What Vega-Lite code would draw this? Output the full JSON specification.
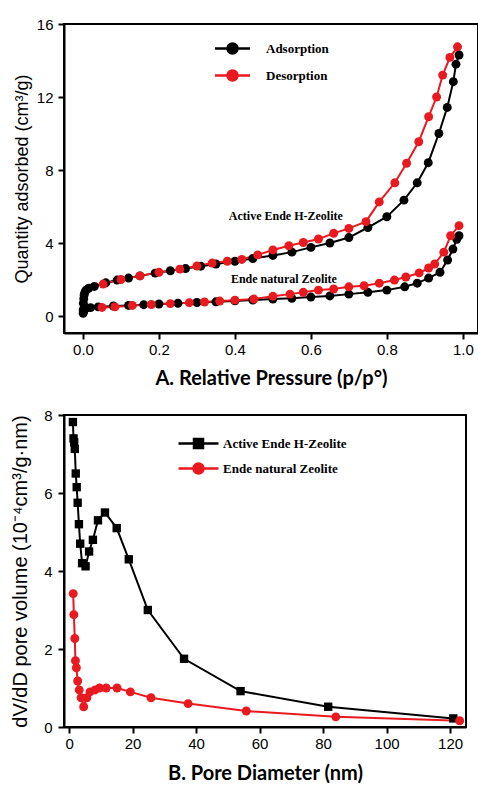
{
  "$schema": "https://vega.github.io/schema/vega-lite/v6.json",
  "background": "white",
  "padding": {"left": 9, "top": 16, "right": 0, "bottom": 0},
  "bounds": "flush",
  "spacing": 82,
  "config": {
    "view": {"stroke": "black", "strokeWidth": 2},
    "axis": {
      "grid": false,
      "domainColor": "black", "domainWidth": 2,
      "tickColor": "black", "tickWidth": 2, "tickSize": 6,
      "labelFont": "Liberation Sans", "labelFontSize": 15, "labelColor": "black",
      "titleColor": "black"
    }
  },
  "resolve": {
    "scale": {"color": "independent"},
    "legend": {"color": "independent"}
  },
  "vconcat": [
    {
      "width": 414,
      "height": 309,
      "data": {"values": [
        {"sample": "Active", "branch": "Adsorption", "p": 0.0005, "q": 0.35},
        {"sample": "Active", "branch": "Adsorption", "p": 0.001, "q": 0.7},
        {"sample": "Active", "branch": "Adsorption", "p": 0.002, "q": 0.95},
        {"sample": "Active", "branch": "Adsorption", "p": 0.003, "q": 1.15},
        {"sample": "Active", "branch": "Adsorption", "p": 0.005, "q": 1.3},
        {"sample": "Active", "branch": "Adsorption", "p": 0.008, "q": 1.42},
        {"sample": "Active", "branch": "Adsorption", "p": 0.015, "q": 1.52},
        {"sample": "Active", "branch": "Adsorption", "p": 0.03, "q": 1.62},
        {"sample": "Active", "branch": "Adsorption", "p": 0.06, "q": 1.82},
        {"sample": "Active", "branch": "Adsorption", "p": 0.09, "q": 1.97},
        {"sample": "Active", "branch": "Adsorption", "p": 0.12, "q": 2.08},
        {"sample": "Active", "branch": "Adsorption", "p": 0.15, "q": 2.2},
        {"sample": "Active", "branch": "Adsorption", "p": 0.19, "q": 2.35},
        {"sample": "Active", "branch": "Adsorption", "p": 0.23, "q": 2.48},
        {"sample": "Active", "branch": "Adsorption", "p": 0.27, "q": 2.6},
        {"sample": "Active", "branch": "Adsorption", "p": 0.31, "q": 2.73},
        {"sample": "Active", "branch": "Adsorption", "p": 0.35, "q": 2.85},
        {"sample": "Active", "branch": "Adsorption", "p": 0.4, "q": 3.0},
        {"sample": "Active", "branch": "Adsorption", "p": 0.447, "q": 3.15},
        {"sample": "Active", "branch": "Adsorption", "p": 0.5, "q": 3.32},
        {"sample": "Active", "branch": "Adsorption", "p": 0.55, "q": 3.5},
        {"sample": "Active", "branch": "Adsorption", "p": 0.6, "q": 3.76},
        {"sample": "Active", "branch": "Adsorption", "p": 0.65, "q": 4.0},
        {"sample": "Active", "branch": "Adsorption", "p": 0.7, "q": 4.3},
        {"sample": "Active", "branch": "Adsorption", "p": 0.75, "q": 4.85},
        {"sample": "Active", "branch": "Adsorption", "p": 0.8, "q": 5.44},
        {"sample": "Active", "branch": "Adsorption", "p": 0.845, "q": 6.35},
        {"sample": "Active", "branch": "Adsorption", "p": 0.88, "q": 7.3},
        {"sample": "Active", "branch": "Adsorption", "p": 0.909, "q": 8.4},
        {"sample": "Active", "branch": "Adsorption", "p": 0.937, "q": 10.0},
        {"sample": "Active", "branch": "Adsorption", "p": 0.959, "q": 11.43},
        {"sample": "Active", "branch": "Adsorption", "p": 0.975, "q": 12.84},
        {"sample": "Active", "branch": "Adsorption", "p": 0.982, "q": 13.8},
        {"sample": "Active", "branch": "Adsorption", "p": 0.99, "q": 14.3},
        {"sample": "Natural", "branch": "Adsorption", "p": 0.0005, "q": 0.15},
        {"sample": "Natural", "branch": "Adsorption", "p": 0.001, "q": 0.25},
        {"sample": "Natural", "branch": "Adsorption", "p": 0.002, "q": 0.32},
        {"sample": "Natural", "branch": "Adsorption", "p": 0.004, "q": 0.38},
        {"sample": "Natural", "branch": "Adsorption", "p": 0.008, "q": 0.42},
        {"sample": "Natural", "branch": "Adsorption", "p": 0.02, "q": 0.46},
        {"sample": "Natural", "branch": "Adsorption", "p": 0.04, "q": 0.5},
        {"sample": "Natural", "branch": "Adsorption", "p": 0.08, "q": 0.55},
        {"sample": "Natural", "branch": "Adsorption", "p": 0.12, "q": 0.58},
        {"sample": "Natural", "branch": "Adsorption", "p": 0.16, "q": 0.62},
        {"sample": "Natural", "branch": "Adsorption", "p": 0.2, "q": 0.66},
        {"sample": "Natural", "branch": "Adsorption", "p": 0.25, "q": 0.7},
        {"sample": "Natural", "branch": "Adsorption", "p": 0.3, "q": 0.74},
        {"sample": "Natural", "branch": "Adsorption", "p": 0.35, "q": 0.78},
        {"sample": "Natural", "branch": "Adsorption", "p": 0.4, "q": 0.83},
        {"sample": "Natural", "branch": "Adsorption", "p": 0.447, "q": 0.88},
        {"sample": "Natural", "branch": "Adsorption", "p": 0.5, "q": 0.93},
        {"sample": "Natural", "branch": "Adsorption", "p": 0.55, "q": 0.97},
        {"sample": "Natural", "branch": "Adsorption", "p": 0.6, "q": 1.04},
        {"sample": "Natural", "branch": "Adsorption", "p": 0.65, "q": 1.1},
        {"sample": "Natural", "branch": "Adsorption", "p": 0.7, "q": 1.2},
        {"sample": "Natural", "branch": "Adsorption", "p": 0.75, "q": 1.3},
        {"sample": "Natural", "branch": "Adsorption", "p": 0.8, "q": 1.42},
        {"sample": "Natural", "branch": "Adsorption", "p": 0.847, "q": 1.6},
        {"sample": "Natural", "branch": "Adsorption", "p": 0.88, "q": 1.8},
        {"sample": "Natural", "branch": "Adsorption", "p": 0.91, "q": 2.08},
        {"sample": "Natural", "branch": "Adsorption", "p": 0.94, "q": 2.4},
        {"sample": "Natural", "branch": "Adsorption", "p": 0.96, "q": 3.07},
        {"sample": "Natural", "branch": "Adsorption", "p": 0.974, "q": 3.67},
        {"sample": "Natural", "branch": "Adsorption", "p": 0.984, "q": 4.2},
        {"sample": "Natural", "branch": "Adsorption", "p": 0.99, "q": 4.4},
        {"sample": "Active", "branch": "Desorption", "p": 0.053, "q": 1.75},
        {"sample": "Active", "branch": "Desorption", "p": 0.1, "q": 2.0},
        {"sample": "Active", "branch": "Desorption", "p": 0.15, "q": 2.2},
        {"sample": "Active", "branch": "Desorption", "p": 0.2, "q": 2.4},
        {"sample": "Active", "branch": "Desorption", "p": 0.255, "q": 2.57},
        {"sample": "Active", "branch": "Desorption", "p": 0.3, "q": 2.74},
        {"sample": "Active", "branch": "Desorption", "p": 0.34, "q": 2.9},
        {"sample": "Active", "branch": "Desorption", "p": 0.38, "q": 3.0},
        {"sample": "Active", "branch": "Desorption", "p": 0.418, "q": 3.1},
        {"sample": "Active", "branch": "Desorption", "p": 0.46, "q": 3.35},
        {"sample": "Active", "branch": "Desorption", "p": 0.5, "q": 3.62},
        {"sample": "Active", "branch": "Desorption", "p": 0.542, "q": 3.85},
        {"sample": "Active", "branch": "Desorption", "p": 0.58, "q": 4.03},
        {"sample": "Active", "branch": "Desorption", "p": 0.62, "q": 4.22},
        {"sample": "Active", "branch": "Desorption", "p": 0.66, "q": 4.53},
        {"sample": "Active", "branch": "Desorption", "p": 0.7, "q": 4.8},
        {"sample": "Active", "branch": "Desorption", "p": 0.745, "q": 5.17},
        {"sample": "Active", "branch": "Desorption", "p": 0.78, "q": 6.25},
        {"sample": "Active", "branch": "Desorption", "p": 0.821, "q": 7.3},
        {"sample": "Active", "branch": "Desorption", "p": 0.852, "q": 8.37},
        {"sample": "Active", "branch": "Desorption", "p": 0.884, "q": 9.55},
        {"sample": "Active", "branch": "Desorption", "p": 0.91, "q": 10.92},
        {"sample": "Active", "branch": "Desorption", "p": 0.931, "q": 12.0},
        {"sample": "Active", "branch": "Desorption", "p": 0.947, "q": 13.2},
        {"sample": "Active", "branch": "Desorption", "p": 0.966, "q": 14.17},
        {"sample": "Active", "branch": "Desorption", "p": 0.986, "q": 14.75},
        {"sample": "Natural", "branch": "Desorption", "p": 0.05, "q": 0.47},
        {"sample": "Natural", "branch": "Desorption", "p": 0.084, "q": 0.5},
        {"sample": "Natural", "branch": "Desorption", "p": 0.13, "q": 0.58},
        {"sample": "Natural", "branch": "Desorption", "p": 0.18, "q": 0.63},
        {"sample": "Natural", "branch": "Desorption", "p": 0.23, "q": 0.68},
        {"sample": "Natural", "branch": "Desorption", "p": 0.28, "q": 0.73},
        {"sample": "Natural", "branch": "Desorption", "p": 0.32, "q": 0.77},
        {"sample": "Natural", "branch": "Desorption", "p": 0.36, "q": 0.82},
        {"sample": "Natural", "branch": "Desorption", "p": 0.4, "q": 0.87},
        {"sample": "Natural", "branch": "Desorption", "p": 0.45, "q": 0.93},
        {"sample": "Natural", "branch": "Desorption", "p": 0.5, "q": 1.08},
        {"sample": "Natural", "branch": "Desorption", "p": 0.545, "q": 1.2},
        {"sample": "Natural", "branch": "Desorption", "p": 0.58, "q": 1.3},
        {"sample": "Natural", "branch": "Desorption", "p": 0.62, "q": 1.42},
        {"sample": "Natural", "branch": "Desorption", "p": 0.66, "q": 1.48},
        {"sample": "Natural", "branch": "Desorption", "p": 0.7, "q": 1.6},
        {"sample": "Natural", "branch": "Desorption", "p": 0.74, "q": 1.66},
        {"sample": "Natural", "branch": "Desorption", "p": 0.78, "q": 1.8},
        {"sample": "Natural", "branch": "Desorption", "p": 0.82, "q": 1.97},
        {"sample": "Natural", "branch": "Desorption", "p": 0.85, "q": 2.14},
        {"sample": "Natural", "branch": "Desorption", "p": 0.885, "q": 2.36},
        {"sample": "Natural", "branch": "Desorption", "p": 0.91, "q": 2.63},
        {"sample": "Natural", "branch": "Desorption", "p": 0.926, "q": 2.85},
        {"sample": "Natural", "branch": "Desorption", "p": 0.95, "q": 3.5},
        {"sample": "Natural", "branch": "Desorption", "p": 0.968, "q": 4.4},
        {"sample": "Natural", "branch": "Desorption", "p": 0.99, "q": 4.95}
      ]},
      "layer": [
        {
          "mark": {"type": "line", "strokeWidth": 2},
          "encoding": {
            "x": {
              "field": "p", "type": "quantitative",
              "scale": {"domain": [-0.05, 1.04], "nice": false, "zero": false},
              "axis": {
                "values": [0, 0.2, 0.4, 0.6, 0.8, 1.0], "format": ".1f",
                "title": "A. Relative Pressure (p/p°)",
                "titleFont": "Lato", "titleFontSize": 20, "titleFontWeight": "bold",
                "titlePadding": 11, "labelPadding": 3
              }
            },
            "y": {
              "field": "q", "type": "quantitative",
              "scale": {"domain": [-0.93, 16], "nice": false, "zero": false},
              "axis": {
                "values": [0, 4, 8, 12, 16],
                "title": "Quantity adsorbed (cm³/g)",
                "titleFont": "Liberation Sans", "titleFontSize": 18, "titleFontWeight": "normal",
                "titlePadding": 5, "labelPadding": 5
              }
            },
            "color": {
              "field": "branch", "type": "nominal",
              "scale": {"domain": ["Adsorption", "Desorption"], "range": ["black", "#e8191f"]},
              "legend": {
                "orient": "none", "legendX": 157, "legendY": 13, "title": null,
                "padding": 0,
                "symbolType": "M-1.75,0H1.75M-0.5,0A0.5,0.5 0 1,0 0.5,0A0.5,0.5 0 1,0 -0.5,0Z",
                "symbolSize": 400, "symbolStrokeWidth": 2.5, "symbolOpacity": 1,
                "labelFont": "Liberation Serif", "labelFontWeight": "bold", "labelFontSize": 13,
                "labelColor": "black", "labelOffset": 22, "rowPadding": 5,
                "encode": {"symbols": {"update": {
                  "fill": [{"test": "datum.value === 'Adsorption'", "value": "black"}, {"value": "#e8191f"}],
                  "stroke": [{"test": "datum.value === 'Adsorption'", "value": "black"}, {"value": "#e8191f"}]
                }}}
              }
            },
            "detail": {"field": "sample"}
          }
        },
        {
          "mark": {"type": "point", "filled": true, "size": 80, "opacity": 1},
          "encoding": {
            "x": {"field": "p", "type": "quantitative"},
            "y": {"field": "q", "type": "quantitative"},
            "color": {"field": "branch", "type": "nominal", "legend": null}
          }
        },
        {
          "data": {"values": [
            {"label": "Active Ende H-Zeolite", "p": 0.534, "q": 5.48},
            {"label": "Ende natural Zeolite", "p": 0.529, "q": 2.03}
          ]},
          "mark": {"type": "text", "font": "Liberation Serif", "fontWeight": "bold", "fontSize": 12, "color": "black"},
          "encoding": {
            "x": {"field": "p", "type": "quantitative"},
            "y": {"field": "q", "type": "quantitative"},
            "text": {"field": "label"}
          }
        }
      ]
    },
    {
      "width": 402,
      "height": 312,
      "data": {"values": [
        {"sample": "Active Ende H-Zeolite", "d": 1.2, "v": 7.82},
        {"sample": "Active Ende H-Zeolite", "d": 1.4, "v": 7.4},
        {"sample": "Active Ende H-Zeolite", "d": 1.6, "v": 7.3},
        {"sample": "Active Ende H-Zeolite", "d": 1.8, "v": 7.13},
        {"sample": "Active Ende H-Zeolite", "d": 2.1, "v": 6.5},
        {"sample": "Active Ende H-Zeolite", "d": 2.4, "v": 6.15},
        {"sample": "Active Ende H-Zeolite", "d": 2.7, "v": 5.75},
        {"sample": "Active Ende H-Zeolite", "d": 3.1, "v": 5.2},
        {"sample": "Active Ende H-Zeolite", "d": 3.5, "v": 4.7},
        {"sample": "Active Ende H-Zeolite", "d": 4.1, "v": 4.2},
        {"sample": "Active Ende H-Zeolite", "d": 5.2, "v": 4.12},
        {"sample": "Active Ende H-Zeolite", "d": 6.3, "v": 4.5},
        {"sample": "Active Ende H-Zeolite", "d": 7.5, "v": 4.8},
        {"sample": "Active Ende H-Zeolite", "d": 9.1, "v": 5.3},
        {"sample": "Active Ende H-Zeolite", "d": 11.3, "v": 5.5},
        {"sample": "Active Ende H-Zeolite", "d": 15.0, "v": 5.1},
        {"sample": "Active Ende H-Zeolite", "d": 18.8, "v": 4.3},
        {"sample": "Active Ende H-Zeolite", "d": 24.8, "v": 3.0},
        {"sample": "Active Ende H-Zeolite", "d": 36.2, "v": 1.75},
        {"sample": "Active Ende H-Zeolite", "d": 54.0, "v": 0.92},
        {"sample": "Active Ende H-Zeolite", "d": 81.6, "v": 0.52},
        {"sample": "Active Ende H-Zeolite", "d": 121.0, "v": 0.22},
        {"sample": "Ende natural Zeolite", "d": 1.3, "v": 3.42},
        {"sample": "Ende natural Zeolite", "d": 1.5, "v": 2.88},
        {"sample": "Ende natural Zeolite", "d": 1.8, "v": 2.27},
        {"sample": "Ende natural Zeolite", "d": 2.0, "v": 1.7},
        {"sample": "Ende natural Zeolite", "d": 2.3, "v": 1.52},
        {"sample": "Ende natural Zeolite", "d": 2.7, "v": 1.18},
        {"sample": "Ende natural Zeolite", "d": 3.2, "v": 0.95},
        {"sample": "Ende natural Zeolite", "d": 3.8, "v": 0.75},
        {"sample": "Ende natural Zeolite", "d": 4.6, "v": 0.52},
        {"sample": "Ende natural Zeolite", "d": 5.6, "v": 0.75},
        {"sample": "Ende natural Zeolite", "d": 6.6, "v": 0.9},
        {"sample": "Ende natural Zeolite", "d": 8.2, "v": 0.95},
        {"sample": "Ende natural Zeolite", "d": 9.6, "v": 1.0},
        {"sample": "Ende natural Zeolite", "d": 11.7, "v": 1.0},
        {"sample": "Ende natural Zeolite", "d": 15.1, "v": 1.0},
        {"sample": "Ende natural Zeolite", "d": 19.3, "v": 0.9},
        {"sample": "Ende natural Zeolite", "d": 25.8, "v": 0.75},
        {"sample": "Ende natural Zeolite", "d": 37.5, "v": 0.6},
        {"sample": "Ende natural Zeolite", "d": 55.8, "v": 0.41},
        {"sample": "Ende natural Zeolite", "d": 84.0, "v": 0.26},
        {"sample": "Ende natural Zeolite", "d": 123.0, "v": 0.16}
      ]},
      "encoding": {
        "x": {
          "field": "d", "type": "quantitative",
          "scale": {"domain": [-1.6, 125], "nice": false, "zero": false},
          "axis": {
            "values": [0, 20, 40, 60, 80, 100, 120],
            "title": "B. Pore Diameter (nm)",
            "titleFont": "Lato", "titleFontSize": 20, "titleFontWeight": "bold",
            "titlePadding": 12, "labelPadding": 3
          }
        },
        "y": {
          "field": "v", "type": "quantitative",
          "scale": {"domain": [0, 8], "nice": false, "zero": false},
          "axis": {
            "values": [0, 2, 4, 6, 8],
            "title": "dV/dD pore volume (10⁻⁴cm³/g·nm)",
            "titleFont": "Liberation Sans", "titleFontSize": 20, "titleFontWeight": "normal",
            "titlePadding": 13, "labelPadding": 6
          }
        }
      },
      "layer": [
        {
          "mark": {"type": "line", "strokeWidth": 2},
          "encoding": {
            "color": {
              "field": "sample", "type": "nominal",
              "scale": {"domain": ["Active Ende H-Zeolite", "Ende natural Zeolite"], "range": ["black", "#e8191f"]},
              "legend": {
                "orient": "none", "legendX": 123, "legendY": 17, "title": null,
                "padding": 0,
                "symbolType": "M-2,0H2M-0.5,0A0.5,0.5 0 1,0 0.5,0A0.5,0.5 0 1,0 -0.5,0Z",
                "symbolSize": 400, "symbolStrokeWidth": 2.5, "symbolOpacity": 1,
                "labelFont": "Liberation Serif", "labelFontWeight": "bold", "labelFontSize": 13,
                "labelColor": "black", "labelOffset": 13, "rowPadding": 4,
                "encode": {"symbols": {"update": {
                  "shape": [{"test": "datum.value === 'Active Ende H-Zeolite'", "value": "M-2,0H2M-0.45,-0.45H0.45V0.45H-0.45Z"}, {"value": "M-2,0H2M-0.5,0A0.5,0.5 0 1,0 0.5,0A0.5,0.5 0 1,0 -0.5,0Z"}],
                  "fill": [{"test": "datum.value === 'Active Ende H-Zeolite'", "value": "black"}, {"value": "#e8191f"}],
                  "stroke": [{"test": "datum.value === 'Active Ende H-Zeolite'", "value": "black"}, {"value": "#e8191f"}]
                }}}
              }
            }
          }
        },
        {
          "transform": [{"filter": "datum.sample === 'Active Ende H-Zeolite'"}],
          "mark": {"type": "point", "shape": "square", "filled": true, "size": 70, "opacity": 1, "color": "black"}
        },
        {
          "transform": [{"filter": "datum.sample === 'Ende natural Zeolite'"}],
          "mark": {"type": "point", "shape": "circle", "filled": true, "size": 80, "opacity": 1, "color": "#e8191f"}
        }
      ]
    }
  ]
}
